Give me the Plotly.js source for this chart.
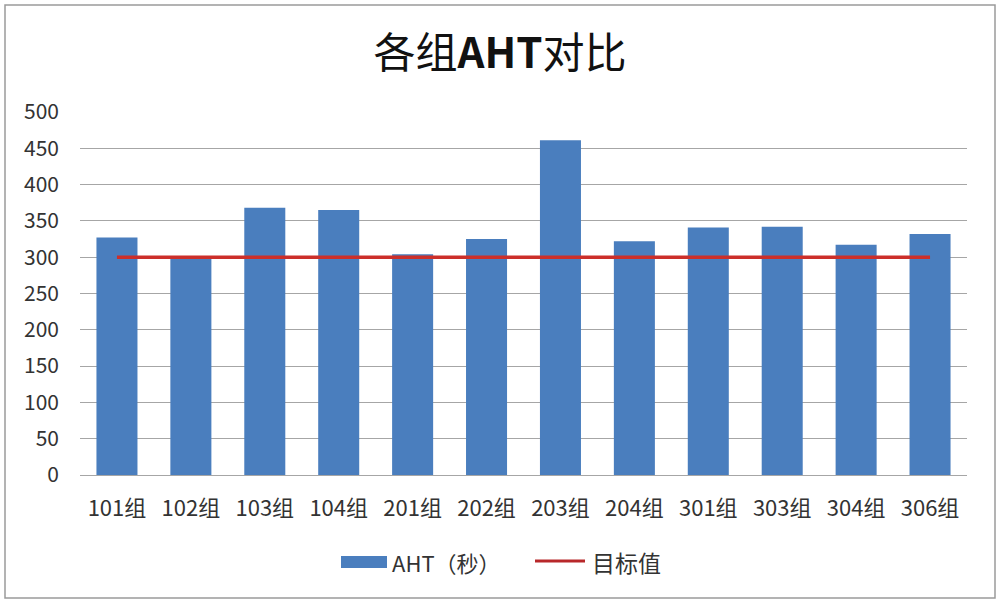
<!DOCTYPE html>
<html>
<head>
<meta charset="utf-8">
<script src="https://cdn.plot.ly/plotly-3.0.1.min.js"></script>
<style>html,body{margin:0;padding:0;background:#fff;}#chart{width:1000px;height:604px;}</style>
</head>
<body>
<div id="chart"></div>
<script>
const categories = ["101组","102组","103组","104组","201组","202组","203组","204组","301组","303组","304组","306组"];
const ahtValues = [327, 298, 368, 365, 304, 325, 461, 322, 341, 342, 317, 332];
const targetValues = [300, 300, 300, 300, 300, 300, 300, 300, 300, 300, 300, 300];
const yTicks = [0, 50, 100, 150, 200, 250, 300, 350, 400, 450, 500];
const barName = "AHT（秒）";
const lineName = "目标值";
const titleText = "各组<b>AHT</b>对比";

const W = 1000, H = 604;
const M = {l: 80, r: 33, t: 112, b: 129};
const pw = W - M.l - M.r, ph = H - M.t - M.b;
const px = x => (x - M.l) / pw;
const py = y => (H - M.b - y) / ph;

const barColor = "#4a7ebe";
const lineColor = "#cc2f2a";
const font = "'Noto Sans CJK SC', 'Noto Sans', sans-serif";

const traces = [
  {type: "bar", x: categories, y: ahtValues, name: barName, marker: {color: barColor}, showlegend: false},
  {type: "scatter", mode: "lines", x: categories, y: targetValues, name: lineName, line: {color: lineColor, width: 3.5}, showlegend: false}
];

const layout = {
  width: W, height: H,
  margin: M,
  paper_bgcolor: "#ffffff",
  plot_bgcolor: "#ffffff",
  bargap: 0.445,
  title: {text: titleText, font: {family: font, size: 42, color: "#111"}, x: 0.5, xanchor: "center", xref: "container", y: 1 - 53 / H, yref: "container", yanchor: "middle"},
  xaxis: {
    showgrid: false, showline: true, linecolor: "#a6a6a6", linewidth: 1,
    tickfont: {family: font, size: 22, color: "#333"},
    ticks: "", ticklabelstandoff: 14, fixedrange: true
  },
  yaxis: {
    range: [0, 500], tickvals: yTicks, ticktext: yTicks.map(String),
    showgrid: true, gridcolor: "#a6a6a6", gridwidth: 1, zeroline: false, showline: false,
    tickfont: {family: font, size: 21, color: "#333"},
    ticks: "", ticklabelstandoff: 20, fixedrange: true
  },
  shapes: [
    {type: "rect", xref: "paper", yref: "paper", x0: px(5), x1: px(995), y0: py(5), y1: py(598), line: {color: "#9a9a9a", width: 1.5}, fillcolor: "rgba(0,0,0,0)", layer: "below"},
    {type: "rect", xref: "paper", yref: "paper", x0: px(341), x1: px(387), y0: py(556), y1: py(568), line: {width: 0}, fillcolor: barColor},
    {type: "line", xref: "paper", yref: "paper", x0: px(535), x1: px(585), y0: py(561), y1: py(561), line: {color: "#b8282a", width: 3}}
  ],
  annotations: [
    {xref: "paper", yref: "paper", x: px(390), y: py(562), xanchor: "left", yanchor: "middle", text: barName, showarrow: false, font: {family: font, size: 22, color: "#333"}},
    {xref: "paper", yref: "paper", x: px(590), y: py(562), xanchor: "left", yanchor: "middle", text: lineName, showarrow: false, font: {family: font, size: 23, color: "#333"}}
  ]
};

Plotly.newPlot("chart", traces, layout, {displayModeBar: false, staticPlot: true});
</script>
</body>
</html>
